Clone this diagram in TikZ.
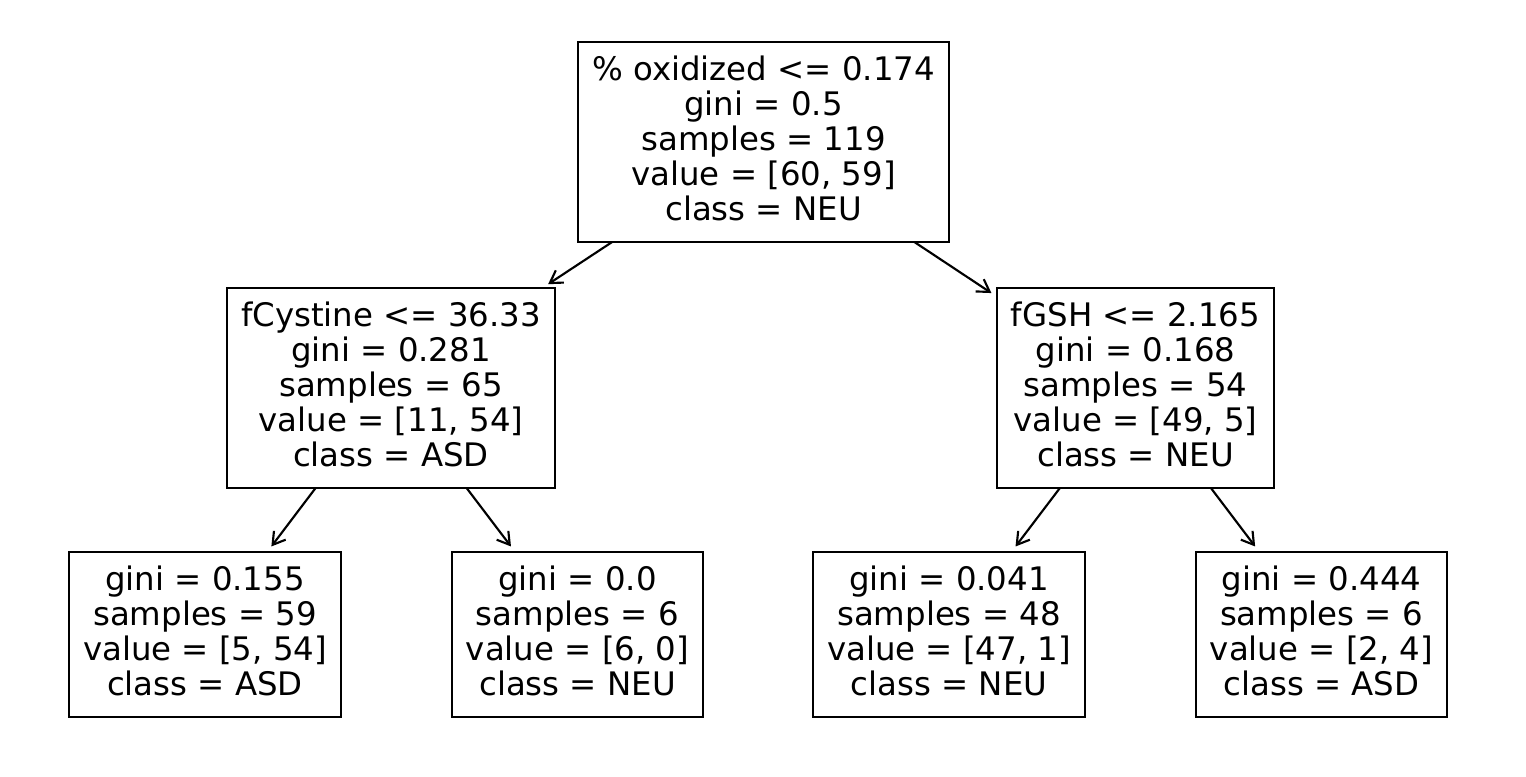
\documentclass[tikz,border=0pt]{standalone}
\usepackage{fontspec}
\setmainfont{DejaVu Sans}
\usetikzlibrary{arrows.meta}

\tikzset{
  treebox/.style={draw, line width=1.6pt, align=center, inner xsep=10.3pt, inner ysep=0pt, outer sep=0pt,
    font=\fontsize{24.3}{26.25}\selectfont, execute at end node={\rule[-5pt]{0pt}{5pt}}},
  splitbox/.style={treebox, minimum height=150pt},
  leafbox/.style={treebox, minimum height=123.75pt},
  treearrow/.style={line width=1.6pt, -{Straight Barb[length=9pt,width=11pt,line width=1.6pt]}, shorten >=5.2pt}
}

\begin{document}
\begin{tikzpicture}[x=0.75pt,y=0.75pt,yscale=-1]
\useasboundingbox (0,0) rectangle (1526,777);

% Split Nodes
\node [splitbox] (nOxid) at (763.5,142) {\% oxidized <= 0.174\\gini = 0.5\\samples = 119\\value = [60, 59]\\class = NEU};
\node [splitbox] (nCys) at (391,388) {fCystine <= 36.33\\gini = 0.281\\samples = 65\\value = [11, 54]\\class = ASD};
\node [splitbox] (nGSH) at (1135.5,388) {fGSH <= 2.165\\gini = 0.168\\samples = 54\\value = [49, 5]\\class = NEU};

% Leaf Nodes
\node [leafbox] (leafA) at (205,634.5) {gini = 0.155\\samples = 59\\value = [5, 54]\\class = ASD};
\node [leafbox] (leafB) at (577.5,634.5) {gini = 0.0\\samples = 6\\value = [6, 0]\\class = NEU};
\node [leafbox] (leafC) at (949,634.5) {gini = 0.041\\samples = 48\\value = [47, 1]\\class = NEU};
\node [leafbox] (leafD) at (1321.5,634.5) {gini = 0.444\\samples = 6\\value = [2, 4]\\class = ASD};

% Arrows
\draw [treearrow] (nOxid) -- (nCys);
\draw [treearrow] (nOxid) -- (nGSH);
\draw [treearrow] (nCys) -- (leafA);
\draw [treearrow] (nCys) -- (leafB);
\draw [treearrow] (nGSH) -- (leafC);
\draw [treearrow] (nGSH) -- (leafD);

\end{tikzpicture}
\end{document}
